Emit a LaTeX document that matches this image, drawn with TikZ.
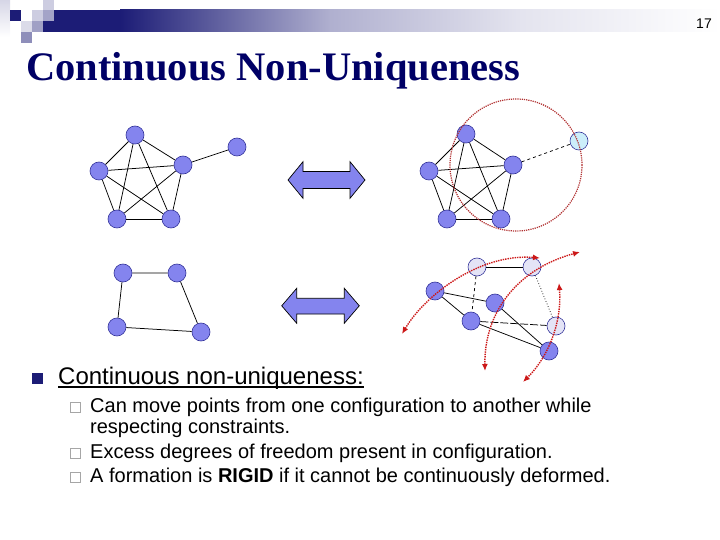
\documentclass[tikz,border=0pt]{standalone}
\usepackage{fontspec}
\setmainfont{Liberation Serif}
\newfontfamily\arialfont{Liberation Sans}
\usetikzlibrary{arrows.meta}

\definecolor{titlenavy}{RGB}{0,0,102}
\definecolor{barnavy}{RGB}{28,28,118}
\definecolor{agentblue}{RGB}{132,132,238}
\definecolor{agentedge}{RGB}{51,51,153}
\definecolor{ghostfill}{RGB}{228,228,246}
\definecolor{cyanfill}{RGB}{204,238,250}
\definecolor{moved}{RGB}{204,24,24}
\definecolor{orbitred}{RGB}{176,48,48}

\begin{document}
\begin{tikzpicture}[x=1pt, y=-1pt,
  every node/.style={inner sep=0pt},
  agent/.style={circle, draw=agentedge, fill=agentblue, minimum size=18pt, line width=0.6pt},
  ghost/.style={agent, fill=ghostfill},
  newspot/.style={agent, fill=cyanfill},
  link/.style={line width=0.75pt},
  swap/.style={draw=black, fill=agentblue, line width=0.7pt},
  motion/.style={{Latex[length=7pt,width=6pt]}-{Latex[length=7pt,width=6pt]}, densely dotted, line width=1.4pt, moved},
  orbit/.style={densely dotted, line width=1.2pt, orbitred},
  slidetitle/.style={anchor=base west, font=\bfseries\fontsize{40.5}{46}\selectfont, text=titlenavy},
  bullettext/.style={anchor=base west, font=\arialfont\fontsize{24}{28}\selectfont},
  subtext/.style={anchor=base west, font=\arialfont\fontsize{20}{24}\selectfont},
  subbox/.style={draw=gray!70, fill=white, line width=0.6pt},
]
\useasboundingbox (0,0) rectangle (720,540);

% Header bar and corner squares
\fill[barnavy] (43,10) rectangle (120,32);
\fill[left color=barnavy, right color=barnavy!35] (120,10) rectangle (330,32);
\fill[left color=barnavy!35, right color=barnavy!12] (330,10) rectangle (520,32);
\fill[left color=barnavy!12, right color=white] (520,10) rectangle (720,32);
\fill[top color=barnavy!18, bottom color=white] (0,0) rectangle (10,37);
\fill[barnavy] (10,10) rectangle (21,21);
\fill[barnavy!22] (32,10) rectangle (43,21);
\fill[barnavy!22] (43,0) rectangle (54,10);
\fill[barnavy!40] (43,10) rectangle (54,21);
\fill[barnavy!16] (21,21) rectangle (32,32);
\fill[barnavy!42] (32,21) rectangle (43,32);
\fill[barnavy!50] (21,32) rectangle (32,43);
\node[anchor=base east, font=\arialfont\fontsize{14}{16}\selectfont] (pgnum) at (712,29) {17};

% Title
\node[slidetitle] (title) at (26,81) {Continuous Non-Uniqueness};

% Rigid graph with extra agent
\node[agent] (G1) at (135,135) {};
\node[agent] (G2) at (99,171) {};
\node[agent] (G3) at (183,165) {};
\node[agent] (G4) at (117,219) {};
\node[agent] (G5) at (171,219) {};
\node[agent] (G6) at (237,147) {};
\foreach \a/\b in {G1/G2, G1/G3, G1/G4, G1/G5, G2/G3, G2/G4, G2/G5, G3/G4, G3/G5, G4/G5, G3/G6}
  \draw[link] (\a) -- (\b);

% Same graph, extra agent swung round
\node[agent] (H1) at (466,134) {};
\node[agent] (H2) at (429,171) {};
\node[agent] (H3) at (513,165) {};
\node[agent] (H4) at (447,219) {};
\node[agent] (H5) at (501,219) {};
\node[newspot] (H6) at (579,141) {};
\foreach \a/\b in {H1/H2, H1/H3, H1/H4, H1/H5, H2/H3, H2/H4, H2/H5, H3/H4, H3/H5, H4/H5}
  \draw[link] (\a) -- (\b);
\draw[link, dashed] (H3) -- (H6);

% Quadrilateral
\node[agent] (Q1) at (123,273) {};
\node[agent] (Q2) at (177,273) {};
\node[agent] (Q3) at (201,332) {};
\node[agent] (Q4) at (117,327) {};
\draw[link] (Q1) -- (Q2) -- (Q3) -- (Q4) -- (Q1);

% Deformed configuration
\node[ghost] (R1) at (477,267) {};
\node[ghost] (R2) at (532,267) {};
\node[agent] (R3) at (435,291) {};
\node[agent] (R4) at (495,303) {};
\node[agent] (R5) at (471,321) {};
\node[ghost] (R6) at (556,326) {};
\node[agent] (R7) at (549,351) {};
\draw[link] (R1) -- (R2);
\draw[link, dashed] (R1) -- (R5);
\draw[link, dotted] (R2) -- (R6);
\draw[link] (R3) -- (R4);
\draw[link] (R3) -- (R5);
\draw[link, dash pattern=on 8pt off 2pt] (R5) -- (R6);
\draw[link] (R5) -- (R7);
\draw[link] (R4) -- (R7);

% Double arrows
\draw[swap] (288,180) -- (303,161.7) -- (303,171.5) -- (350,171.5) -- (350,161.7) -- (365,180)
  -- (350,198.3) -- (350,188.5) -- (303,188.5) -- (303,198.3) -- cycle;
\draw[swap] (281.7,305.8) -- (296.7,288.3) -- (296.7,298.3) -- (344.3,298.3) -- (344.3,288.3) -- (359.3,305.8)
  -- (344.3,323.3) -- (344.3,314) -- (296.7,314) -- (296.7,323.3) -- cycle;

% Red motion paths
\draw[orbit] (516,165) circle[radius=66];
\coordinate (m1s) at (402,334);
\coordinate (m1e) at (540,258);
\coordinate (m2s) at (485,371);
\coordinate (m2e) at (580,252);
\coordinate (m3s) at (559,283);
\coordinate (m3e) at (523,382);
\draw[motion] (m1s) .. controls (425,295) and (480,253) .. (m1e);
\draw[motion] (m2s) .. controls (484,310) and (520,268) .. (m2e);
\draw[motion] (m3s) .. controls (562,320) and (550,355) .. (m3e);

% Bullets
\fill[barnavy] (32,373) rectangle (43,384);
\node[bullettext] (main) at (58,384) {Continuous non-uniqueness:};
\draw[line width=1.2pt] ([yshift=-3pt]main.base west) -- ([yshift=-3pt]main.base east);
\draw[subbox] (70,402) rectangle (80,412);
\node[subtext] (s1) at (90,412) {Can move points from one configuration to another while};
\node[subtext] (s1b) at (90,433) {respecting constraints.};
\draw[subbox] (70,448) rectangle (80,458);
\node[subtext] (s2) at (90,458) {Excess degrees of freedom present in configuration.};
\draw[subbox] (70,472) rectangle (80,482);
\node[subtext] (s3) at (90,482) {A formation is \textbf{RIGID} if it cannot be continuously deformed.};

\end{tikzpicture}
\end{document}
